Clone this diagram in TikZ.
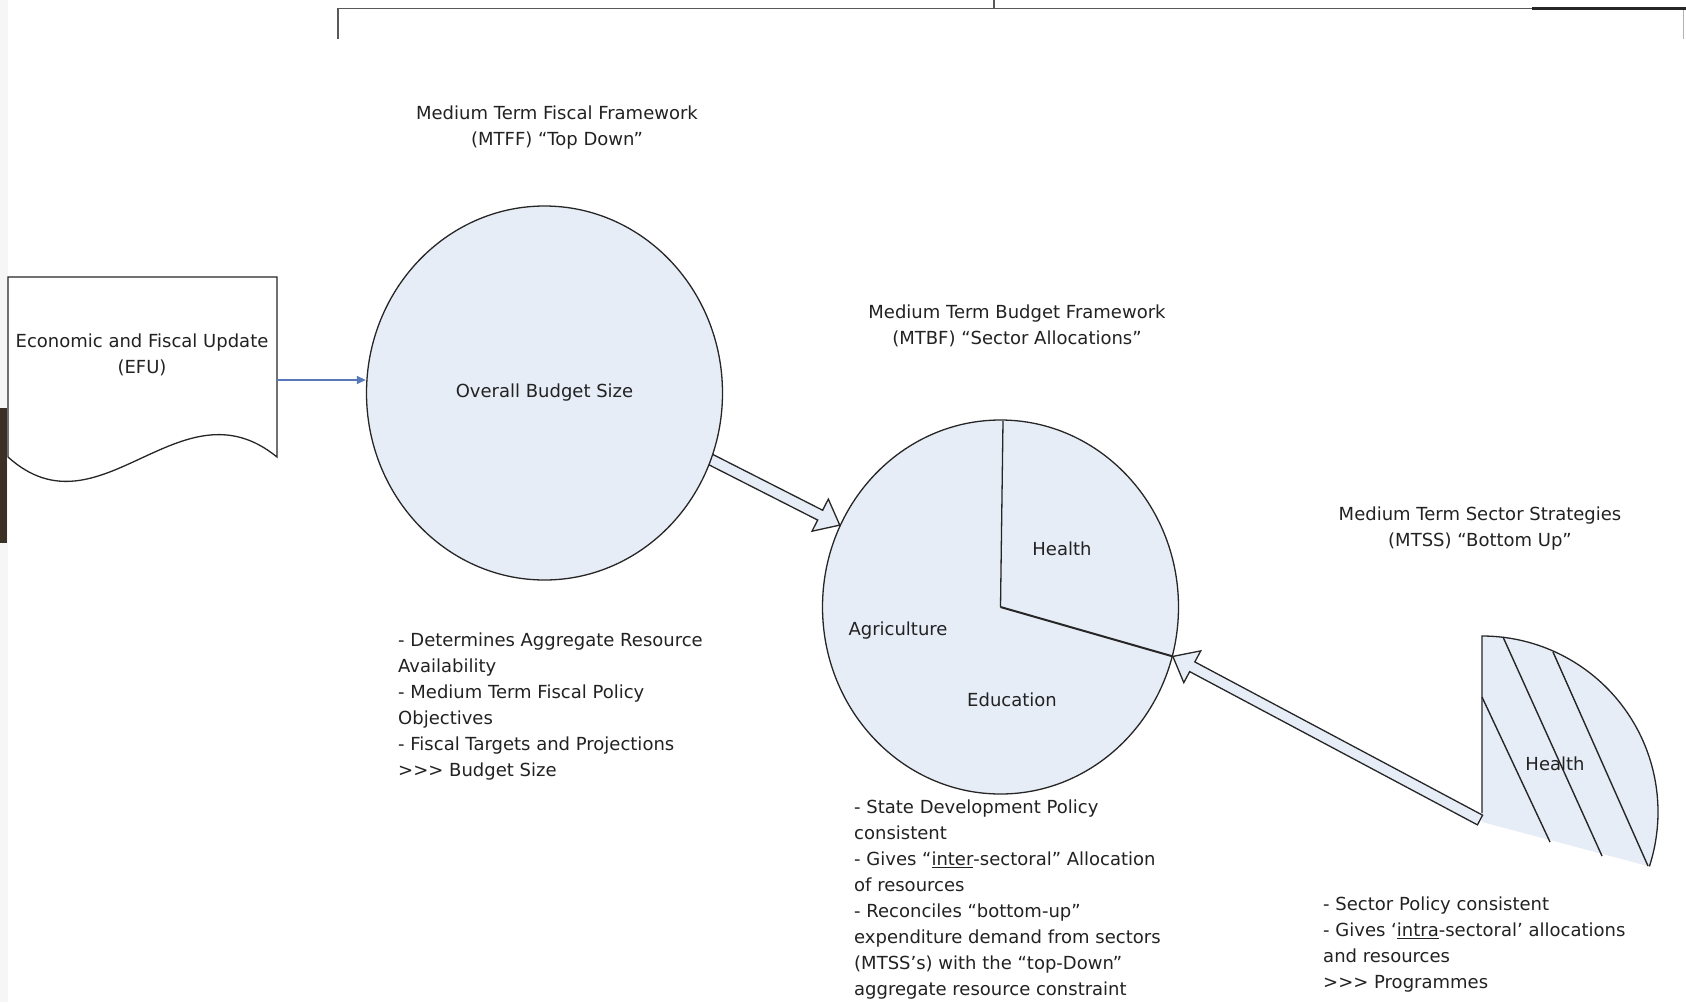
\documentclass[tikz,border=0pt]{standalone}
\usepackage{fontspec}
\setmainfont{DejaVu Sans}
\usetikzlibrary{shapes.geometric,arrows.meta,calc}
\definecolor{blobc}{HTML}{E7EDF7}
\definecolor{linec}{HTML}{262626}
\definecolor{txtc}{HTML}{222222}
\definecolor{bluec}{HTML}{5878BA}
\definecolor{stripc}{HTML}{3B3026}
\tikzset{
  txt/.style={font=\fontsize{18}{26}\selectfont, text=txtc, inner sep=0pt},
  blob/.style={ellipse, draw=linec, fill=blobc, line width=1.3pt,
    minimum width=356pt, minimum height=374pt, inner sep=0pt,
    font=\fontsize{18}{26}\selectfont, text=txtc},
  harrow/.style={draw=linec, fill=blobc, line width=1.3pt, line join=miter},
  docline/.style={draw=linec, fill=white, line width=1.3pt},
  bracket/.style={draw=gray!70!black, line width=1.6pt},
  pieline/.style={draw=linec, line width=1.3pt},
  hatch/.style={draw=linec, line width=1.4pt},
  blueconn/.style={draw=bluec, line width=1.5pt, -{Triangle[length=9pt,width=8pt]}}
}
\newcommand\hollowarrow[2]{%
  \path ($(#2)!22pt!(#1)$) coordinate (ha-m);
  \draw[harrow] ($(#1)!5.5pt!90:(#2)$) -- ($(ha-m)!5.5pt!90:(#2)$)
    -- ($(ha-m)!18pt!90:(#2)$) -- (#2) -- ($(ha-m)!18pt!-90:(#2)$)
    -- ($(ha-m)!5.5pt!-90:(#2)$) -- ($(#1)!5.5pt!-90:(#2)$) -- cycle;}
\begin{document}
\begin{tikzpicture}[x=1pt,y=-1pt]
\useasboundingbox (0,0) rectangle (1686,1002);
\fill[white] (0,0) rectangle (1686,1002);
\fill[gray!7] (0,0) rectangle (8,1002);
\fill[stripc] (0,408) rectangle (7,543);
% top bracket
\draw[bracket] (338,39) -- (338,8.5) -- (1686,8.5);
\draw[bracket] (994,0) -- (994,8.5);
\draw[bracket, line width=1pt, draw=gray!60] (1683,8.5) -- (1683,39);
\draw[bracket, line width=3pt, draw=linec] (1532,8.5) -- (1686,8.5);
% EFU document shape
\draw[docline] (8,277) -- (277,277) -- (277,457)
  .. controls (180,378) and (100,540) .. (8,457) -- cycle;
\node[txt, align=center] (efu) at (142,355) {Economic and Fiscal Update\\(EFU)};
\coordinate (efu-r) at (277,380);
% MTBF pie
\node[blob] (c2) at (1000.5,607) {};
\coordinate (pietop) at (1003,421);
\draw[pieline] (pietop) -- (c2.center);
\draw[pieline, line width=2pt] (c2.center) -- (c2.-16.8);
% arrow MTFF -> MTBF
\coordinate (a1s) at (690,449);
\hollowarrow{a1s}{c2.153}
% MTFF circle
\node[blob] (c1) at (544.5,393) {Overall Budget Size};
\draw[blueconn] (efu-r) -- (c1.west |- efu-r);
% MTSS slice
\fill[blobc] (1482,822) -- (1482,636) arc[start angle=90, end angle=-18, radius=176pt] -- cycle;
\draw[pieline] (1482,813) -- (1482,636) arc[start angle=90, end angle=-18, radius=176pt];
\draw[hatch] (1482,697) -- (1550,842);
\draw[hatch] (1503,637) -- (1602,856);
\draw[hatch] (1553,652) -- (1648,866);
% arrow MTSS -> MTBF
\coordinate (a2s) at (1480,820);
\hollowarrow{a2s}{c2.-16.8}
% labels
\node[txt] (h2) at (1062,549) {Health};
\node[txt] (ag) at (898,631) {Agriculture};
\node[txt] (ed) at (1012,700) {Education};
\node[txt] (h3) at (1555,764) {Health};
\node[txt, align=center, anchor=north] (t-mtff) at (557,106) {Medium Term Fiscal Framework\\(MTFF) “Top Down”};
\node[txt, align=center, anchor=north] (t-mtbf) at (1017,305) {Medium Term Budget Framework\\(MTBF) “Sector Allocations”};
\node[txt, align=center, anchor=north] (t-mtss) at (1480,507) {Medium Term Sector Strategies\\(MTSS) “Bottom Up”};
\node[txt, align=left, anchor=north west] (l-mtff) at (398,633) {- Determines Aggregate Resource\\Availability\\- Medium Term Fiscal Policy\\Objectives\\- Fiscal Targets and Projections\\>{}>{}> Budget Size};
\node[txt, align=left, anchor=north west] (l-mtbf) at (854,800) {- State Development Policy\\consistent\\- Gives “\underline{inter}-sectoral” Allocation\\of resources\\- Reconciles “bottom-up”\\expenditure demand from sectors\\(MTSS’s) with the “top-Down”\\aggregate resource constraint};
\node[txt, align=left, anchor=north west] (l-mtss) at (1323,897) {- Sector Policy consistent\\- Gives ‘\underline{intra}-sectoral’ allocations\\and resources\\>{}>{}> Programmes};
\end{tikzpicture}
\end{document}
